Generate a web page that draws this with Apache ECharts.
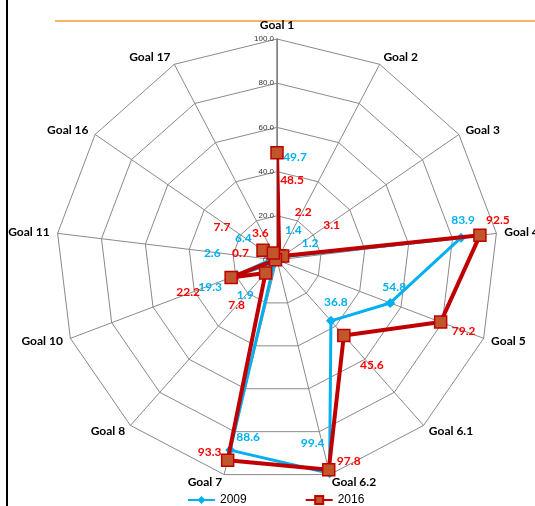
<!DOCTYPE html>
<html>
<head>
<meta charset="utf-8">
<script src="https://cdn.jsdelivr.net/npm/echarts@6/dist/echarts.min.js"></script>
<style>
  html, body { margin: 0; padding: 0; background: #fff; }
  #chart { width: 535px; height: 506px; }
</style>
</head>
<body>
<div id="chart"></div>
<script>
// Goal categories around the radar, clockwise from the top
var goals = ['Goal 1', 'Goal 2', 'Goal 3', 'Goal 4', 'Goal 5', 'Goal 6.1', 'Goal 6.2',
             'Goal 7', 'Goal 8', 'Goal 10', 'Goal 11', 'Goal 16', 'Goal 17'];

// Scores per goal
var values2009 = [49.7, 1.4, 1.2, 83.9, 54.8, 36.8, 99.4, 88.6, 1.9, 19.3, 2.6, 6.4, 0.5];
var values2016 = [48.5, 2.2, 3.1, 92.5, 79.2, 45.6, 97.8, 93.3, 7.8, 22.2, 0.7, 7.7, 3.6];

// Scale ticks
var scaleTicks = [0, 20, 40, 60, 80, 100];

// Label placement (pixel offsets from each point; null = no label)
var offsets2009 = [[18, 7], [15, -27], [31, -15], [2, -18], [4, -16], [5, -19], [-17, -30],
                   [18, -13], [-29, 32], [-27, 12], [-59, -6], [-22, -14], null];
var offsets2016 = [[15, 27], [24, -44], [49, -31], [18, -15], [23, 9], [28, 30], [20, -9],
                   [-18, -8], [-29, 32], [-43, 15], [-35, -7], [-41, -23], [-13, -20]];

var CENTER = [277, 260];
var RADIUS = 221;
var BLUE = '#00B0F0';
var RED = '#C00000';
var LABEL_FONT = 'Lato, "Liberation Sans", sans-serif';

function buildData(values, offsets, labelColor) {
  var data = values.map(function (v, i) {
    var off = offsets[i];
    return {
      value: [v, goals[i]],
      label: off ? {
        show: true, position: 'inside', offset: off,
        formatter: v.toFixed(1), color: labelColor,
        fontSize: 12, fontWeight: 'bold', fontFamily: LABEL_FONT
      } : { show: false }
    };
  });
  // close the outline back to the first goal
  data.push({ value: [values[0], goals[0]], label: { show: false }, symbolSize: 0 });
  return data;
}

// radar indicators run counter-clockwise, so list them in reverse after the first
var radarOrder = [goals[0]].concat(goals.slice(1).reverse());

var chart = echarts.init(document.getElementById('chart'), null, { renderer: 'canvas' });

chart.setOption({
  animation: false,
  backgroundColor: '#fff',
  textStyle: { fontFamily: LABEL_FONT },
  radar: {
    center: CENTER,
    radius: RADIUS,
    startAngle: 90,
    shape: 'polygon',
    splitNumber: scaleTicks.length - 1,
    indicator: radarOrder.map(function (g) { return { name: g, min: 0, max: scaleTicks[scaleTicks.length - 1] }; }),
    axisName: { color: '#000', fontWeight: 'bold', fontSize: 12, fontFamily: LABEL_FONT },
    nameGap: 8,
    axisLine: { lineStyle: { color: '#8a8a8a', width: 1 } },
    splitLine: { lineStyle: { color: '#8a8a8a', width: 1 } },
    splitArea: { show: false },
    axisLabel: { show: false }
  },
  polar: { center: CENTER, radius: RADIUS },
  angleAxis: {
    type: 'category',
    data: goals,
    startAngle: 90,
    clockwise: true,
    boundaryGap: false,
    axisLine: { show: false },
    axisTick: { show: false },
    axisLabel: { show: false },
    splitLine: { show: false }
  },
  radiusAxis: {
    type: 'value',
    min: scaleTicks[0],
    max: scaleTicks[scaleTicks.length - 1],
    interval: scaleTicks[1] - scaleTicks[0],
    axisLine: { show: true, lineStyle: { color: '#808080', width: 1.5 } },
    axisTick: { show: false },
    splitLine: { show: false },
    axisLabel: {
      show: true, fontSize: 8, color: '#333', margin: 3,
      fontFamily: '"Liberation Sans", sans-serif',
      formatter: function (v) { return v.toFixed(1); }
    },
    z: 1
  },
  legend: {
    data: ['2009', '2016'],
    left: 182,
    top: 489,
    itemWidth: 27,
    itemHeight: 10,
    itemGap: 58,
    textStyle: { fontSize: 12, color: '#000', fontFamily: '"Liberation Sans", sans-serif' }
  },
  series: [
    {
      name: '2009',
      type: 'line',
      coordinateSystem: 'polar',
      symbol: 'diamond',
      symbolSize: 10,
      itemStyle: { color: BLUE },
      lineStyle: { color: BLUE, width: 3 },
      data: buildData(values2009, offsets2009, BLUE),
      z: 3
    },
    {
      name: '2016',
      type: 'line',
      coordinateSystem: 'polar',
      symbol: 'rect',
      symbolSize: 12,
      itemStyle: { color: '#C0562A', borderColor: RED, borderWidth: 1.5 },
      lineStyle: { color: RED, width: 4 },
      data: buildData(values2016, offsets2016, '#FF0000'),
      z: 4
    }
  ],
  graphic: [
    { type: 'line', shape: { x1: 55, y1: 21, x2: 535, y2: 21 }, style: { stroke: '#F29B38', lineWidth: 1.5 }, z: -1 },
    { type: 'line', shape: { x1: 7, y1: 0, x2: 7, y2: 506 }, style: { stroke: '#000', lineWidth: 2 } }
  ]
});
</script>
</body>
</html>
